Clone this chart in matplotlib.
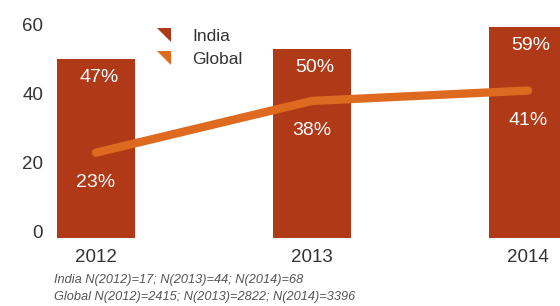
import matplotlib
matplotlib.use("Agg")
import matplotlib.pyplot as plt
from matplotlib.lines import Line2D
from matplotlib.path import Path

plt.rcParams['font.family'] = ['Liberation Sans', 'DejaVu Sans']

years = ["2012", "2013", "2014"]
india_bar_tops = [50.1, 53.0, 59.4]   # visual bar tops as drawn
india_labels = ["47%", "50%", "59%"]
global_values = [23, 38, 41]
global_labels = ["23%", "38%", "41%"]
yticks = [0, 20, 40, 60]
footnote = ("India N(2012)=17; N(2013)=44; N(2014)=68\n"
            "Global N(2012)=2415; N(2013)=2822; N(2014)=3396")

BAR = "#B03A17"
LINE = "#DE6A20"
TXT = "#333333"

W, H = 560, 306
fig = plt.figure(figsize=(W / 100, H / 100), dpi=100)
ax = fig.add_axes([50 / W, (H - 238) / H, 1 - 50 / W, 228 / H])

y0 = -1.74
x = list(range(len(years)))
ax.bar(x, [t - y0 for t in india_bar_tops], width=0.36, bottom=y0, color=BAR, zorder=2)
ax.plot(x, global_values, color=LINE, lw=6, solid_capstyle='round', zorder=3)

for xi, t, lab in zip(x, india_bar_tops, india_labels):
    ax.annotate(lab, (xi, t), xytext=(2, -13), textcoords='offset points',
                ha='center', va='center', color='white', fontsize=14, zorder=4)
for xi, v, lab in zip(x, global_values, global_labels):
    ax.annotate(lab, (xi, v), xytext=(0, -21.5), textcoords='offset points',
                ha='center', va='center', color='white', fontsize=14, zorder=4)

ax.set_xlim(-46 / 216, 2 + 32 / 216)
ax.set_ylim(y0, 60 + 15 / 3.45)
ax.set_yticks(yticks)
ax.set_xticks(x)
ax.set_xticklabels(years)
ax.tick_params(length=0, labelsize=13.5, colors=TXT)
ax.tick_params(axis='y', pad=5)
ax.tick_params(axis='x', pad=8)
for s in ax.spines.values():
    s.set_visible(False)

tri = Path([(-1, 1), (1, 1), (1, -1), (-1, 1)],
           [Path.MOVETO, Path.LINETO, Path.LINETO, Path.CLOSEPOLY])
handles = [Line2D([], [], ls='none', marker=tri, markersize=10, color=BAR, markeredgewidth=0),
           Line2D([], [], ls='none', marker=tri, markersize=10, color=LINE, markeredgewidth=0)]
leg = ax.legend(handles, ["India", "Global"], loc='upper left',
                bbox_to_anchor=(97 / 510, 1 - 12 / 228), frameon=False,
                fontsize=12.5, handlelength=1.2, handletextpad=1.0, labelspacing=0.45,
                borderaxespad=0)
for t in leg.get_texts():
    t.set_color(TXT)

fig.text(54 / W, 1 - 288.5 / H, footnote, ha='left', va='center', fontsize=9.2,
         style='italic', color='#555555', linespacing=1.45)

fig.savefig("out.png", dpi=100)
